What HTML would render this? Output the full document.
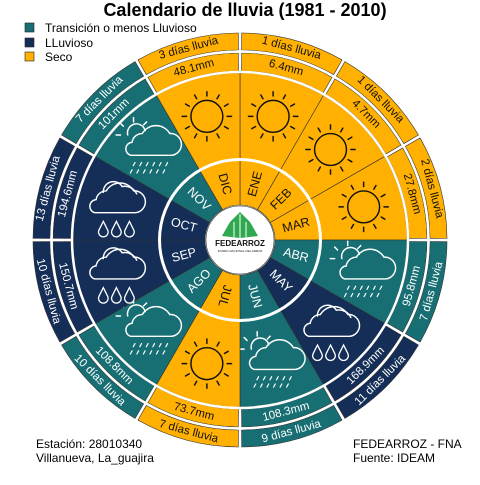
<!DOCTYPE html>
<html><head><meta charset="utf-8"><style>
body{margin:0;background:#fff;width:480px;height:480px;overflow:hidden;font-family:"Liberation Sans",sans-serif}
</style></head><body>
<svg id="chart" width="480" height="480" viewBox="0 0 480 480" xmlns="http://www.w3.org/2000/svg" font-family="Liberation Sans, sans-serif">
<rect width="480" height="480" fill="#fff"/>
<text x="245" y="16" text-anchor="middle" font-size="18" font-weight="bold">Calendario de lluvia (1981 - 2010)</text>
<g font-size="12">
<rect x="25" y="23" width="9" height="9" fill="#186F73" stroke="#222" stroke-width="0.6"/>
<text x="45" y="32">Transición o menos Lluvioso</text>
<rect x="25" y="38" width="9" height="9" fill="#142E57" stroke="#222" stroke-width="0.6"/>
<text x="45" y="47">LLuvioso</text>
<rect x="25" y="52" width="9" height="9" fill="#FFB000" stroke="#222" stroke-width="0.6"/>
<text x="45" y="61">Seco</text>
</g>
<g id="rings"></g>
<g font-size="12">
<text x="36" y="448">Estación: 28010340</text>
<text x="36" y="462">Villanueva, La_guajira</text>
<text x="353" y="448">FEDEARROZ - FNA</text>
<text x="353" y="462">Fuente: IDEAM</text>
</g>
</svg>
<script>
const months = ["ENE","FEB","MAR","ABR","MAY","JUN","JUL","AGO","SEP","OCT","NOV","DIC"];
const rainMm = ["6.4","4.7","27.8","95.8","168.9","108.3","73.7","108.8","150.7","194.6","101","48.1"];
const rainDays = [1,1,2,7,11,9,7,10,10,13,7,3];
const categories = ["seco","seco","seco","trans","lluv","trans","seco","trans","lluv","lluv","trans","seco"];

const COL={seco:"#FFB000",trans:"#186F73",lluv:"#142E57"};
const TXT={seco:"#111",trans:"#fff",lluv:"#fff"};
const CX=240,CY=240,NS="http://www.w3.org/2000/svg";
const g=document.getElementById("rings");
function mk(tag,attrs,parent){const e=document.createElementNS(NS,tag);for(const k in attrs)e.setAttribute(k,attrs[k]);(parent||g).appendChild(e);return e;}
function pt(r,deg){const a=(deg-90)*Math.PI/180;return [CX+r*Math.cos(a),CY+r*Math.sin(a)];}
function sector(r0,r1,a0,a1){const p1=pt(r1,a0),p2=pt(r1,a1),p3=pt(r0,a1),p4=pt(r0,a0);
return `M${p1[0]},${p1[1]} A${r1},${r1} 0 0 1 ${p2[0]},${p2[1]} L${p3[0]},${p3[1]} A${r0},${r0} 0 0 0 ${p4[0]},${p4[1]} Z`;}
function tangRot(m){return (m>90&&m<270)?m-180:m;}

const n=months.length, step=360/n;
months.forEach((mo,i)=>{
  const a0=i*step,a1=(i+1)*step,mid=a0+step/2,c=categories[i];
  const ms=mk("path",{d:sector(35,80,a0,a1),fill:COL[c],stroke:"#333","stroke-width":0.6});
  
  
  const is=mk("path",{d:sector(81,167,a0,a1),fill:COL[c],stroke:"#333","stroke-width":0.6});
  
  
  const gapA=1.6/178*180/Math.PI, gapB=1.6/198*180/Math.PI;
  const mmS=mk("path",{d:sector(169,187,a0+gapA,a1-gapA),fill:COL[c],stroke:"#333","stroke-width":0.6});
  
  
  const dS=mk("path",{d:sector(190,207,a0+gapB,a1-gapB),fill:COL[c],stroke:"#333","stroke-width":0.6});
  
  
  const rot=tangRot(mid);
  let p=pt(178,mid);
  const t1=mk("text",{x:p[0],y:p[1],"text-anchor":"middle","dominant-baseline":"central","font-size":11.5,fill:TXT[c],transform:`rotate(${rot} ${p[0]} ${p[1]})`});
  t1.textContent=rainMm[i]+"mm";
  
  
  p=pt(198.5,mid);
  const t2=mk("text",{x:p[0],y:p[1],"text-anchor":"middle","dominant-baseline":"central","font-size":11.5,fill:TXT[c],transform:`rotate(${rot} ${p[0]} ${p[1]})`});
  t2.textContent=rainDays[i]+" días lluvia";
  
  
  p=pt(58,mid);
  const mr=(mid<210)?mid-90:mid-270;
  const t3=mk("text",{x:p[0],y:p[1],"text-anchor":"middle","dominant-baseline":"central","font-size":12.5,fill:TXT[c],transform:`rotate(${mr} ${p[0]} ${p[1]})`});
  t3.textContent=mo;
  
  
  p=pt(128,mid);
  const ic=mk("g",{transform:`translate(${p[0]},${p[1]}) scale(1.45)`,fill:"none","stroke-width":1.0,"stroke-linecap":"round"});
  
  
  if(c==="seco"){
    mk("circle",{cx:0,cy:0,r:11,stroke:"#111"},ic);
    for(let k=0;k<12;k++){const a=k*30*Math.PI/180;
      mk("line",{x1:14*Math.cos(a),y1:14*Math.sin(a),x2:17*Math.cos(a),y2:17*Math.sin(a),stroke:"#111"},ic);}
  }else{
    const cloud="M-15,6 H13 A7.5,7.5 0 0 0 12,-9 A11,11 0 0 0 -7,-9 A7,7 0 0 0 -14,-3 A4.6,4.6 0 0 0 -15,6 Z";
    if(c==="lluv"){
      mk("path",{d:"M-9,-10 A7,7 0 0 1 4,-14 A9,9 0 0 1 14,-9",stroke:"#fff"},ic);
      mk("path",{d:cloud,stroke:"#fff",transform:"translate(0,-2)"},ic);
      [-9,0,9].forEach(x=>mk("path",{d:`M${x},10 L${x-3},16 A3.3,3.3 0 1 0 ${x+3},16 Z`,stroke:"#fff","stroke-width":0.9},ic));
    }else{
      mk("path",{d:"M-15,-10 A6,6 0 0 1 -3,-13",stroke:"#fff"},ic);
      [[-20,-10,-23,-10],[-18,-16,-20,-18],[-11,-19,-11,-22],[-4,-17,-2,-19]].forEach(l=>mk("line",{x1:l[0],y1:l[1],x2:l[2],y2:l[3],stroke:"#fff"},ic));
      mk("path",{d:cloud,stroke:"#fff",transform:"translate(2,-2)"},ic);
      for(let row=0;row<2;row++)for(let k=0;k<6;k++){const x=-10+k*4.5-row*2,y=9+row*5;
        mk("line",{x1:x,y1:y,x2:x-1.2,y2:y+2.2,stroke:"#fff","stroke-width":0.8},ic);}
    }
  }
});
mk("circle",{cx:CX,cy:CY,r:80.5,fill:"none",stroke:"#fff","stroke-width":3});
mk("circle",{cx:CX,cy:CY,r:168,fill:"none",stroke:"#fff","stroke-width":2.5});
mk("circle",{cx:CX,cy:CY,r:188.5,fill:"none",stroke:"#fff","stroke-width":2.5});
const logo=mk("g",{});


mk("circle",{cx:CX,cy:CY,r:34,fill:"#fff",stroke:"#333","stroke-width":0.6},logo);
mk("path",{d:"M240,212 L250,222 L258,236 L240,238 L222,236 L230,222 Z",fill:"#2FA84F"},logo);
mk("path",{d:"M240,214 L240,238 M234,222 L234,237 M246,222 L246,237",stroke:"#fff","stroke-width":1},logo);
const lt=mk("text",{x:CX,y:246,"text-anchor":"middle","font-size":8,"font-weight":"bold",fill:"#111"},logo);
lt.textContent="FEDEARROZ";
const lt2=mk("text",{x:CX,y:252,"text-anchor":"middle","font-size":3,fill:"#111"},logo);
lt2.textContent="FONDO NACIONAL DEL ARROZ";
</script>
</body></html>
